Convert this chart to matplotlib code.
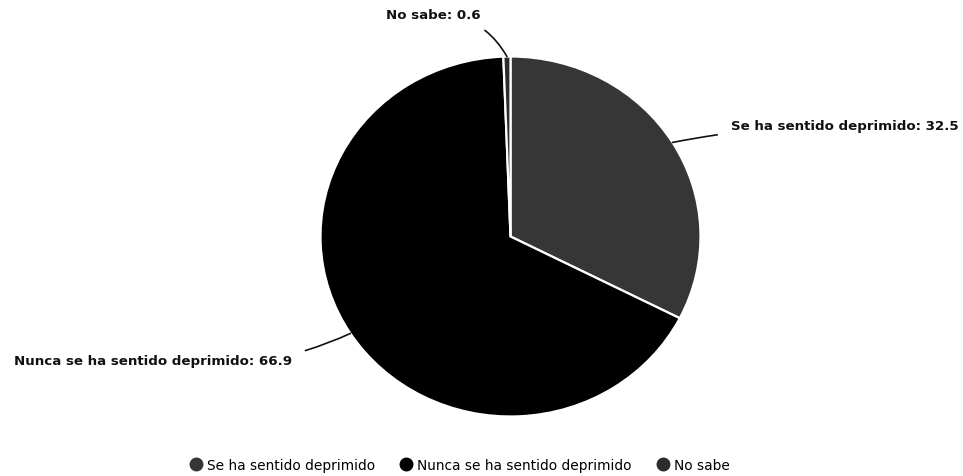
import matplotlib
matplotlib.use("Agg")
import matplotlib.pyplot as plt
import numpy as np
from matplotlib.lines import Line2D

categories = ["Se ha sentido deprimido", "Nunca se ha sentido deprimido", "No sabe"]
values = [32.5, 66.9, 0.6]
colors = ["#363636", "#000000", "#2c2c2c"]

W, H = 963, 477
fig = plt.figure(figsize=(W / 100, H / 100), dpi=100)
ax = fig.add_axes([0, 0, 1, 1])

# the reference pie is slightly wider than tall: x data units are scaled
k = 180 / 190.0
cx_px, cy_px, r = 510.5, 237.5, 180
cx, cy = cx_px * k, H - cy_px
wedges, _ = ax.pie(values, colors=colors, startangle=90, counterclock=False,
                   center=(cx, cy), radius=r, frame=True,
                   wedgeprops=dict(edgecolor="white", linewidth=1.6))
ax.set_aspect("auto")
ax.set_xlim(0, W * k)
ax.set_ylim(0, H)
ax.axis("off")

# label text positions (pixels, y from top), alignment, connector curvature
label_pos = [(731, 127, "left", 0.05), (292, 362, "right", 0.15), (481, 16, "right", -0.3)]
for w, cat, val, (tx, ty, ha, rad) in zip(wedges, categories, values, label_pos):
    ang = np.deg2rad((w.theta1 + w.theta2) / 2)
    px, py = cx + r * np.cos(ang), cy + r * np.sin(ang)
    ax.annotate(f"{cat}: {val}", xy=(px, py), xytext=(tx, H - ty),
                textcoords="figure pixels",
                ha=ha, va="center", fontsize=9.6, fontweight="bold", color="#111",
                arrowprops=dict(arrowstyle="-", color="#111", lw=1.2,
                                connectionstyle=f"arc3,rad={rad}",
                                shrinkA=8, shrinkB=0))

handles = [Line2D([0], [0], marker="o", linestyle="none", markersize=9,
                  markerfacecolor=c, markeredgecolor=c) for c in colors]
fig.legend(handles, categories, loc="center", bbox_to_anchor=(459.5 / W, 1 - 466 / H),
           ncol=3, frameon=False, fontsize=9.9, handlelength=1.0,
           handletextpad=0.3, columnspacing=1.8)

fig.savefig("out.png", dpi=100)
